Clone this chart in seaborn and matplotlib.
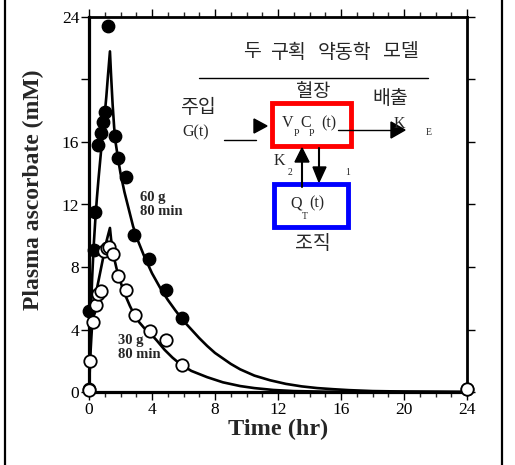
import matplotlib
matplotlib.use("Agg")
import matplotlib.pyplot as plt
from matplotlib.patches import Rectangle, Polygon
from matplotlib.lines import Line2D
import seaborn as sns
import pandas as pd
import numpy as np

# ---------------- data ----------------
# 60 g infusion (filled circles)
high_t = [0, 0.02, 0.3, 0.4, 0.57, 0.74, 0.91, 1.04, 1.22, 1.63, 1.85, 2.36, 2.87, 3.84, 4.86, 5.93, 24]
high_v = [0.2, 5.2, 9.1, 11.5, 15.8, 16.6, 17.25, 17.9, 23.4, 16.4, 14.95, 13.75, 10.05, 8.5, 6.5, 4.75, 0.2]
# 30 g infusion (open circles)
low_t = [0, 0.06, 0.23, 0.45, 0.6, 0.79, 0.98, 1.12, 1.25, 1.5, 1.87, 2.38, 2.91, 3.86, 4.86, 5.9, 24]
low_v = [0.15, 2.0, 4.5, 5.55, 6.25, 6.45, 9.05, 9.2, 9.3, 8.85, 7.45, 6.55, 4.9, 3.9, 3.35, 1.75, 0.2]
# model fit curves
fit_high_t = [0, 0.05, 0.1, 0.15, 0.2, 0.3, 0.4, 0.5, 0.6, 0.7, 0.8, 0.9, 1.0, 1.1, 1.2, 1.33,
              1.4, 1.5, 1.6, 1.7, 1.85, 2.0, 2.25, 2.5, 2.8, 3.1, 3.5, 4.0, 4.5, 5.0, 5.5, 6.0,
              6.5, 7.0, 7.5, 8.0, 8.5, 9.0, 9.6, 10.5, 11.5, 12.5, 13.5, 14.5, 15.5, 16.5, 18,
              20, 24]
fit_high_v = [0, 2.3, 4.3, 5.9, 7.3, 9.4, 11.0, 12.4, 13.6, 14.7, 15.8, 16.8, 17.8, 18.9, 20.2, 21.8,
              20.3, 18.4, 16.9, 15.9, 14.9, 14.0, 12.8, 11.8, 10.6, 9.7, 8.7, 7.6, 6.7, 5.9, 5.2, 4.55,
              4.0, 3.45, 2.95, 2.5, 2.15, 1.8, 1.45, 1.05, 0.75, 0.52, 0.36, 0.25, 0.18, 0.12, 0.06,
              0.03, 0.0]
fit_low_t = [0, 0.05, 0.1, 0.15, 0.2, 0.3, 0.4, 0.5, 0.6, 0.7, 0.8, 0.9, 1.0, 1.1, 1.2, 1.33,
             1.4, 1.5, 1.6, 1.75, 1.9, 2.1, 2.3, 2.6, 2.9, 3.2, 3.5, 3.9, 4.3, 4.8, 5.3, 5.8,
             6.5, 7.5, 8.5, 9.6, 10.5, 11.7, 13, 15, 24]
fit_low_v = [0, 1.4, 2.6, 3.5, 4.3, 5.3, 6.0, 6.6, 7.1, 7.6, 8.1, 8.6, 9.1, 9.6, 10.0, 10.5,
             9.8, 9.1, 8.55, 7.9, 7.35, 6.75, 6.2, 5.5, 4.9, 4.45, 4.1, 3.75, 3.3, 2.7, 2.2, 1.78,
             1.35, 0.95, 0.62, 0.38, 0.25, 0.13, 0.06, 0.02, 0.0]

x_ticks = [0, 4, 8, 12, 16, 20, 24]
y_ticks = [0, 4, 8, 12, 16, 20, 24]
y_tick_labels = ["0", "4", "8", "12", "16", "", "24"]

# ---------------- style ----------------
sns.set_theme(style="ticks")
plt.rcParams["font.family"] = ["Liberation Serif", "DejaVu Serif"]
KR = ["Noto Sans CJK KR", "DejaVu Sans"]

fig = plt.figure(figsize=(5.15, 4.65), dpi=100)
ax = fig.add_axes([89/515, 1-392/465, (467-89)/515, (392-17)/465])

df_hf = pd.DataFrame({"t": fit_high_t, "v": fit_high_v})
df_lf = pd.DataFrame({"t": fit_low_t, "v": fit_low_v})
sns.lineplot(data=df_hf, x="t", y="v", ax=ax, color="black", lw=1.9, sort=False, estimator=None, zorder=3)
sns.lineplot(data=df_lf, x="t", y="v", ax=ax, color="black", lw=1.9, sort=False, estimator=None, zorder=3)

df_h = pd.DataFrame({"t": high_t, "v": high_v})
df_l = pd.DataFrame({"t": low_t, "v": low_v})
sns.scatterplot(data=df_h, x="t", y="v", ax=ax, color="black", s=80, edgecolor="black",
                linewidth=1.0, zorder=4, clip_on=False)
sns.scatterplot(data=df_l, x="t", y="v", ax=ax, color="white", s=80, edgecolor="black",
                linewidth=1.3, zorder=5, clip_on=False)

ax.set_xlim(0, 24)
ax.set_ylim(0, 24)
ax.set_xticks(x_ticks)
ax.set_xticks(np.arange(0, 25, 1), minor=True)
ax.set_yticks(y_ticks)
ax.set_yticklabels(y_tick_labels)
ax.tick_params(axis="both", which="major", direction="out", length=6, width=1.0,
               labelsize=12.5, colors="black", pad=1)
ax.tick_params(axis="x", which="minor", direction="out", length=3.5, width=1.0)
ax.tick_params(axis="x", which="both", top=True)
ax.tick_params(axis="y", which="both", right=True)
for s in ax.spines.values():
    s.set_visible(True)
    s.set_color("black")
    s.set_linewidth(2.0)
ax.spines["left"].set_linewidth(2.3)
ax.spines["bottom"].set_linewidth(2.3)

ax.set_xlabel("Time (hr)", fontsize=17.5, fontweight="bold", labelpad=1)
ax.set_ylabel("Plasma ascorbate (mM)", fontsize=17, fontweight="bold")
ax.yaxis.set_label_coords(-0.118, 0.54)

ax.text(3.24, 12.0, "60 g\n80 min", fontsize=10.5, fontweight="bold", va="center", ha="left",
        linespacing=1.05)
ax.text(1.84, 2.85, "30 g\n80 min", fontsize=10.5, fontweight="bold", va="center", ha="left",
        linespacing=1.05)

# ---------------- diagram overlay in pixel coordinates ----------------
ov = fig.add_axes([0, 0, 1, 1], zorder=10)
ov.set_xlim(0, 515)
ov.set_ylim(465, 0)
ov.axis("off")
ov.patch.set_alpha(0)

# outer frame lines
ov.add_line(Line2D([5, 5], [0, 465], color="black", lw=1.6))
ov.add_line(Line2D([502, 502], [0, 465], color="black", lw=1.6))

# title words
for word, xc in [("두", 251.5), ("구획", 288), ("약동학", 344.5), ("모델", 401)]:
    ov.text(xc, 52, word, family=KR, fontsize=14, ha="center", va="center")
ov.add_line(Line2D([199, 428], [78, 78], color="black", lw=1.0))
ov.text(313, 91, "혈장", family=KR, fontsize=13.5, ha="center", va="center")
ov.text(198, 107, "주입", family=KR, fontsize=14, ha="center", va="center")
ov.text(390, 98, "배출", family=KR, fontsize=14, ha="center", va="center")
ov.text(313, 243, "조직", family=KR, fontsize=14, ha="center", va="center")
ov.text(196, 132, "G(t)", fontsize=11.5, ha="center", va="center")

# infusion line + arrowhead
ov.add_line(Line2D([224, 256], [140, 140], color="black", lw=1.0))
ov.add_patch(Polygon([[254, 119], [254, 133], [267, 126]], closed=True, color="black"))

# plasma box
ov.add_patch(Rectangle((272, 103), 79, 43, fill=False, edgecolor="#ff0000", lw=3.5))
ov.text(282, 123, "V", fontsize=11.5, ha="left", va="center")
ov.text(294, 133, "P", fontsize=7, ha="left", va="center")
ov.text(300, 123, "C", fontsize=11.5, ha="left", va="center")
ov.text(309, 133, "P", fontsize=7, ha="left", va="center")
ov.text(321, 123, "(t)", fontsize=11.5, ha="left", va="center")

# elimination
ov.text(394, 124, "K", fontsize=11.5, ha="left", va="center")
ov.add_line(Line2D([338, 395], [130, 130], color="black", lw=1.0))
ov.add_patch(Polygon([[391, 122], [391, 138], [405, 130]], closed=True, color="black"))
ov.text(429, 132, "E", fontsize=7, ha="center", va="center")

# exchange arrows
ov.text(279, 161, "K", fontsize=11.5, ha="center", va="center")
ov.text(290, 172, "2", fontsize=7, ha="center", va="center")
ov.add_line(Line2D([302, 302], [187, 160], color="black", lw=1.5))
ov.add_patch(Polygon([[295, 162], [309, 162], [302, 148]], closed=True, color="black"))
ov.add_line(Line2D([319, 319], [148, 170], color="black", lw=1.5))
ov.add_patch(Polygon([[313, 167], [326, 167], [319, 182]], closed=True, color="black"))
ov.text(348, 172, "1", fontsize=7, ha="center", va="center")

# tissue box
ov.add_patch(Rectangle((274, 184), 74, 43, fill=False, edgecolor="#0000ff", lw=3.5))
ov.text(290, 203, "Q", fontsize=11.5, ha="left", va="center")
ov.text(302, 216, "T", fontsize=7, ha="left", va="center")
ov.text(309, 203, "(t)", fontsize=11.5, ha="left", va="center")

fig.savefig("out.png", dpi=100)
